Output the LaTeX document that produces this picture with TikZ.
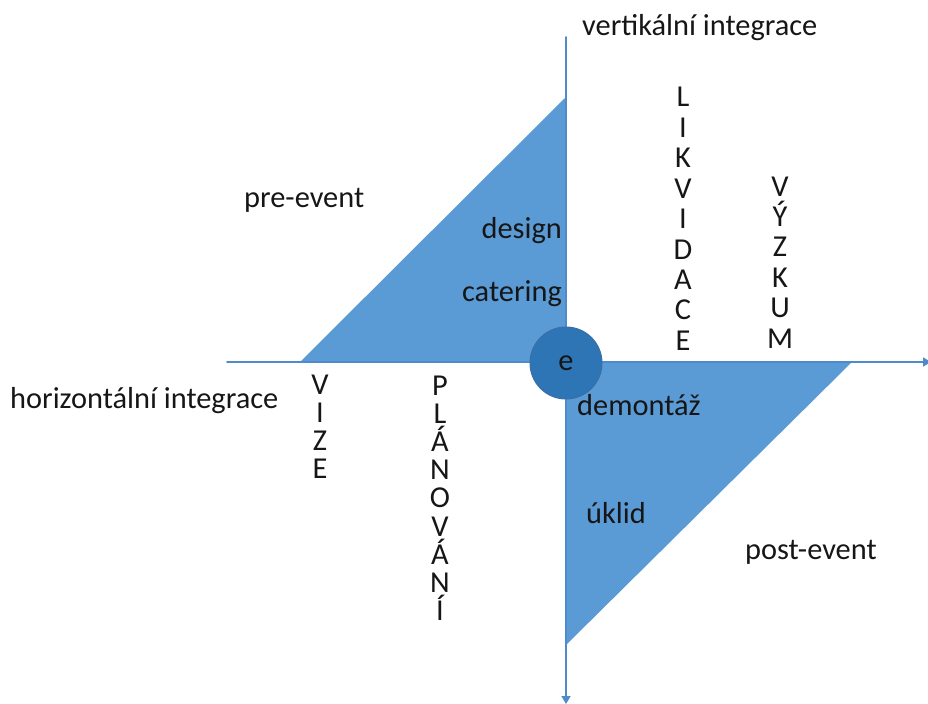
\documentclass[tikz,border=0pt]{standalone}
\usepackage{fontspec}
\setmainfont{Carlito}
\usetikzlibrary{arrows.meta}
\definecolor{officeblue}{HTML}{5B9BD5}
\definecolor{axisblue}{HTML}{4F8ACB}
\definecolor{circleblue}{HTML}{2E75B6}
\definecolor{circleedge}{HTML}{3A6FA6}
\definecolor{textdark}{HTML}{161616}
\begin{document}
\begin{tikzpicture}[x=1bp,y=-1bp,line cap = round, line join = round]
	\tikzstyle{word}=[font=\fontsize{30.5}{36}\selectfont,text=textdark,inner sep=0pt]
	\tikzstyle{letter}=[word,anchor=base]
	\tikzstyle{axis}=[draw=axisblue,line width=1.6bp,-{Triangle[width=9bp,length=8bp]}]
	\useasboundingbox (0,0) rectangle (928,704);
	\coordinate (T) at (566,37); \coordinate (B) at (566,704);
	\coordinate (L) at (227,362); \coordinate (R) at (931,362);
	\coordinate (O) at (566,362);
	\coordinate (P1) at (300,362); \coordinate (P2) at (566,97);
	\coordinate (Q1) at (852,362); \coordinate (Q2) at (566,645);
	\fill[officeblue] (P1) -- (P2) -- (O) -- cycle;
	\fill[officeblue] (O) -- (Q1) -- (Q2) -- cycle;
	\draw[axis] (T) -- (B);
	\draw[axis] (L) -- (R);
	\node[circle,fill=circleblue,draw=circleedge,line width=1bp,minimum size=72bp,word] (e) at (566,363) {e};
	\node[word,anchor=base west] (vert) at (582,36) {vertikální integrace};
	\node[word,anchor=base west] (hor) at (10,408) {horizontální integrace};
	\node[word,anchor=base west] (pre) at (244,207) {pre-event};
	\node[word,anchor=base east] (design) at (562,238) {design};
	\node[word,anchor=base east] (catering) at (562,301) {catering};
	\node[word,anchor=base west] (demontaz) at (577,415) {demontáž};
	\node[word,anchor=base west] (uklid) at (586,523) {úklid};
	\node[word,anchor=base west] (post) at (745,559) {post-event};
	\foreach \c [count=\i from 0] in {L,I,K,V,I,D,A,C,E} {\node[letter] (lik\i) at (683,107+30.4*\i) {\c};}
	\foreach \c [count=\i from 0] in {V,Ý,Z,K,U,M} {\node[letter] (vyz\i) at (780,196+30.4*\i) {\c};}
	\foreach \c [count=\i from 0] in {V,I,Z,E} {\node[letter] (viz\i) at (320,394+28.2*\i) {\c};}
	\foreach \c [count=\i from 0] in {P,L,Á,N,O,V,Á,N,Í} {\node[letter] (pla\i) at (440,395+28.2*\i) {\c};}
\end{tikzpicture}
\end{document}
